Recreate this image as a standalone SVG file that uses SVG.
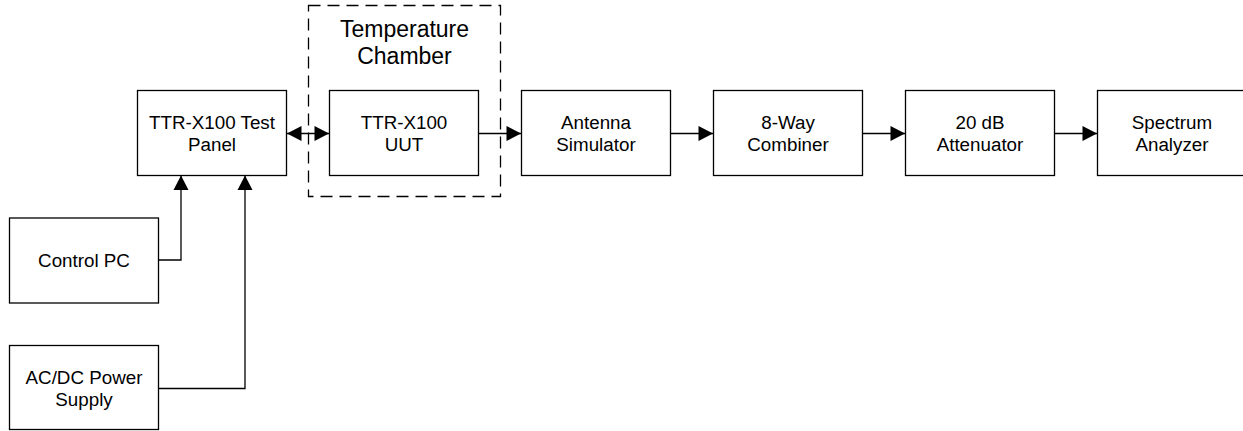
<svg xmlns="http://www.w3.org/2000/svg" width="1243" height="431" viewBox="0 0 1243 431">
<style>
.box{fill:#fff;stroke:#000;stroke-width:1.3}
.t{font-family:"Liberation Sans",Arial,sans-serif;font-size:18.8px;fill:#000;text-anchor:middle}
.title{font-family:"Liberation Sans",Arial,sans-serif;font-size:23px;fill:#000;text-anchor:middle}
.c{fill:none;stroke:#000;stroke-width:1.3}
.dash{fill:none;stroke:#000;stroke-width:1.3;stroke-dasharray:12,7}
</style>
<defs>
<marker id="ah" markerUnits="userSpaceOnUse" markerWidth="16" markerHeight="16" viewBox="0 0 16 16" refX="15" refY="8" orient="auto-start-reverse">
<path d="M0.5,0.5 L15,8 L0.5,15.5 z" fill="#000"/>
</marker>
</defs>
<rect width="1243" height="431" fill="#fff"/>
<g id="chamber">
<rect class="dash" x="308.5" y="5.5" width="192" height="191"/>
<text class="title" x="404.5" y="37">Temperature</text>
<text class="title" x="404.5" y="63.5">Chamber</text>
</g>
<g id="connectors">
<path class="c" d="M287,133.5 H329" marker-start="url(#ah)" marker-end="url(#ah)"/>
<path class="c" d="M479,133.5 H521" marker-end="url(#ah)"/>
<path class="c" d="M671,133.5 H713" marker-end="url(#ah)"/>
<path class="c" d="M863,133.5 H905" marker-end="url(#ah)"/>
<path class="c" d="M1055,133.5 H1097" marker-end="url(#ah)"/>
<path class="c" d="M159,260 H181 V175.5" marker-end="url(#ah)"/>
<path class="c" d="M159,388.5 H245 V175.5" marker-end="url(#ah)"/>
</g>
<g id="test-panel">
<rect class="box" x="137.5" y="90.5" width="149" height="85"/>
<text class="t" x="212" y="128.5">TTR-X100 Test</text>
<text class="t" x="212" y="151">Panel</text>
</g>
<g id="uut">
<rect class="box" x="329.5" y="90.5" width="149" height="85"/>
<text class="t" x="404" y="128.5">TTR-X100</text>
<text class="t" x="404" y="151">UUT</text>
</g>
<g id="antenna-simulator">
<rect class="box" x="521.5" y="90.5" width="149" height="85"/>
<text class="t" x="596" y="128.5">Antenna</text>
<text class="t" x="596" y="151">Simulator</text>
</g>
<g id="combiner">
<rect class="box" x="713.5" y="90.5" width="149" height="85"/>
<text class="t" x="788" y="128.5">8-Way</text>
<text class="t" x="788" y="151">Combiner</text>
</g>
<g id="attenuator">
<rect class="box" x="905.5" y="90.5" width="149" height="85"/>
<text class="t" x="980" y="128.5">20 dB</text>
<text class="t" x="980" y="151">Attenuator</text>
</g>
<g id="spectrum-analyzer">
<rect class="box" x="1097.5" y="90.5" width="149" height="85"/>
<text class="t" x="1172" y="128.5">Spectrum</text>
<text class="t" x="1172" y="151">Analyzer</text>
</g>
<g id="control-pc">
<rect class="box" x="9.5" y="218" width="149" height="85"/>
<text class="t" x="84" y="267">Control PC</text>
</g>
<g id="power-supply">
<rect class="box" x="9.5" y="345.5" width="149" height="84"/>
<text class="t" x="84" y="383.5">AC/DC Power</text>
<text class="t" x="84" y="406">Supply</text>
</g>
</svg>
